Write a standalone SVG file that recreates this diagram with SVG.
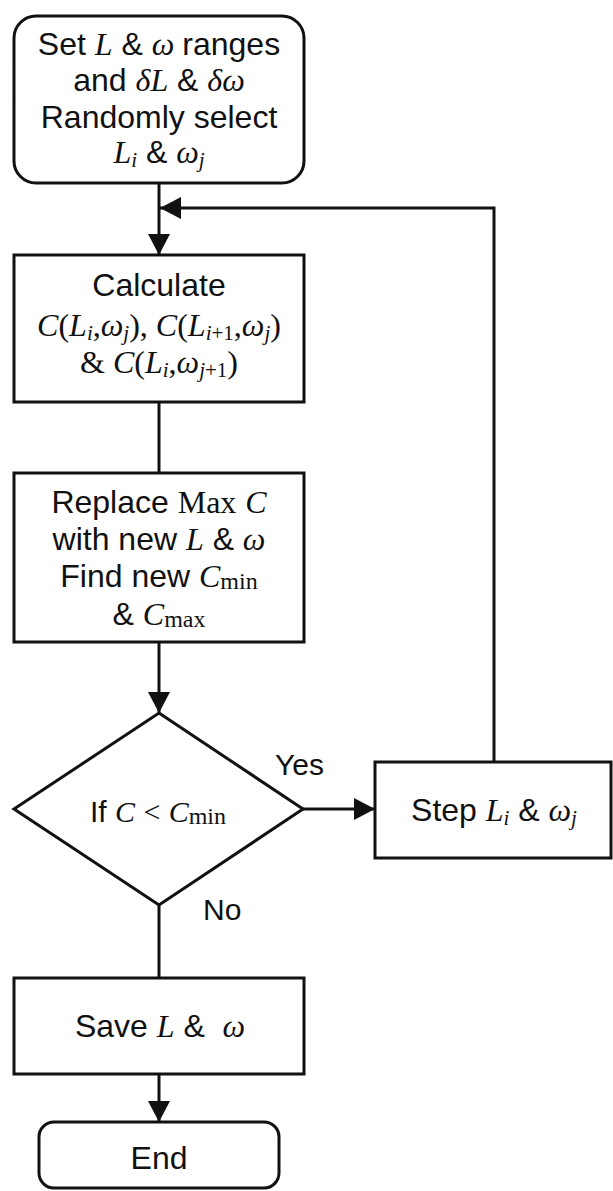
<svg xmlns="http://www.w3.org/2000/svg" width="613" height="1191" viewBox="0 0 613 1191">
<defs>
<marker id="ah" markerUnits="userSpaceOnUse" markerWidth="22" markerHeight="22" refX="21" refY="11" orient="auto" viewBox="0 0 22 22">
<path d="M0,0 L21,11 L0,22 Z" fill="#111"/>
</marker>
<style>
.box{fill:#fff;stroke:#111;stroke-width:3}
.ln{fill:none;stroke:#111;stroke-width:3}
text{font-family:"Liberation Sans",Arial,sans-serif;font-size:32px;fill:#111;text-anchor:middle}
.lbl{font-size:30px;text-anchor:start}
.m{font-family:"Liberation Serif","Times New Roman",serif;font-style:italic}
.r{font-family:"Liberation Serif","Times New Roman",serif;font-style:normal}
.sb{font-size:21px}
.sm{font-size:24px}
</style>
</defs>
<rect width="613" height="1191" fill="#fff"/>
<g id="connectors">
<path class="ln" d="M159,183 V255" marker-end="url(#ah)"/>
<path class="ln" d="M494,762 V208 H160" marker-end="url(#ah)"/>
<path class="ln" d="M159,402 V473"/>
<path class="ln" d="M159,642 V713" marker-end="url(#ah)"/>
<path class="ln" d="M303,809 H375" marker-end="url(#ah)"/>
<path class="ln" d="M159,905 V978"/>
<path class="ln" d="M159,1074 V1122" marker-end="url(#ah)"/>
</g>
<g id="start">
<rect class="box" x="14" y="16" width="290" height="167" rx="22"/>
<text x="159" y="55">Set <tspan class="m">L</tspan> &amp; <tspan class="m">ω </tspan>ranges</text>
<text x="159" y="91">and <tspan class="m">δL</tspan> &amp; <tspan class="m">δω</tspan></text>
<text x="159" y="128">Randomly select</text>
<text x="159" y="163"><tspan class="m">L</tspan><tspan class="m sb" dy="4">i</tspan><tspan dy="-4"> &amp; </tspan><tspan class="m">ω</tspan><tspan class="m sb" dy="4">j</tspan></text>
</g>
<g id="calculate">
<rect class="box" x="14" y="255" width="290" height="147"/>
<text x="159" y="296">Calculate</text>
<text x="159" y="336" class="r"><tspan class="m">C</tspan>(<tspan class="m">L</tspan><tspan class="m sb" dy="4">i</tspan><tspan dy="-4">,</tspan><tspan class="m">ω</tspan><tspan class="m sb" dy="4">j</tspan><tspan dy="-4">), </tspan><tspan class="m">C</tspan>(<tspan class="m">L</tspan><tspan class="m sb" dy="4">i</tspan><tspan class="sb">+1</tspan><tspan dy="-4">,</tspan><tspan class="m">ω</tspan><tspan class="m sb" dy="4">j</tspan><tspan dy="-4">)</tspan></text>
<text x="159" y="373" class="r">&amp; <tspan class="m">C</tspan>(<tspan class="m">L</tspan><tspan class="m sb" dy="4">i</tspan><tspan dy="-4">,</tspan><tspan class="m">ω</tspan><tspan class="m sb" dy="4">j</tspan><tspan class="sb">+1</tspan><tspan dy="-4">)</tspan></text>
</g>
<g id="replace">
<rect class="box" x="14" y="473" width="290" height="169"/>
<text x="159" y="513">Replace <tspan class="r">Max</tspan> <tspan class="m">C</tspan></text>
<text x="159" y="550">with new <tspan class="m">L</tspan> &amp; <tspan class="m">ω</tspan></text>
<text x="159" y="587">Find new <tspan class="m">C</tspan><tspan class="r sm" dy="2">min</tspan></text>
<text x="159" y="625">&amp; <tspan class="m">C</tspan><tspan class="r sm" dy="2">max</tspan></text>
</g>
<g id="decision">
<polygon class="box" points="159,713 303,809 159,905 14,809"/>
<text x="158" y="822" style="font-size:30px">If <tspan class="m">C</tspan> <tspan class="r">&lt;</tspan> <tspan class="m">C</tspan><tspan class="r sm" dy="2">min</tspan></text>
</g>
<g id="step">
<rect class="box" x="375" y="762" width="236" height="96"/>
<text x="494" y="821">Step <tspan class="m">L</tspan><tspan class="m sb" dy="4">i</tspan><tspan dy="-4"> &amp; </tspan><tspan class="m">ω</tspan><tspan class="m sb" dy="4">j</tspan></text>
</g>
<g id="save">
<rect class="box" x="14" y="978" width="290" height="96"/>
<text x="160" y="1037" xml:space="preserve">Save <tspan class="m">L</tspan> &amp;  <tspan class="m">ω</tspan></text>
</g>
<g id="end">
<rect class="box" x="39" y="1122" width="240" height="66" rx="15"/>
<text x="159" y="1169">End</text>
</g>
<g id="labels">
<text class="lbl" x="275" y="775">Yes</text>
<text class="lbl" x="203" y="920">No</text>
</g>
</svg>
